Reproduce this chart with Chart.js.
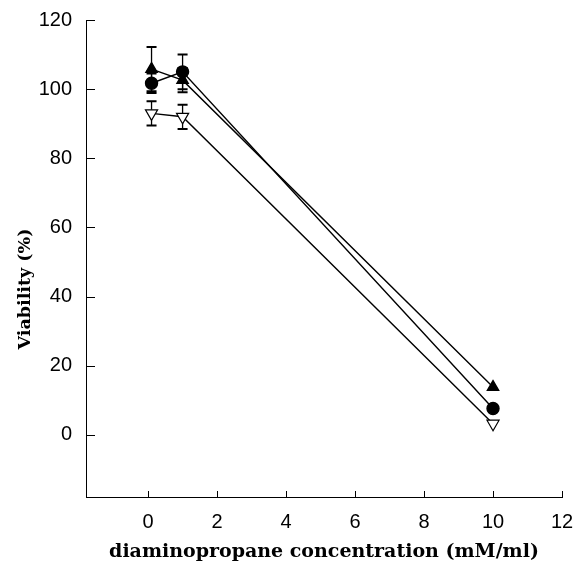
<!DOCTYPE html>
<html>
<head>
<meta charset="utf-8">
<script src="https://cdn.jsdelivr.net/npm/chart.js@4/dist/chart.umd.min.js"></script>
<style>
  html, body { margin: 0; padding: 0; background: #fff; }
  #wrap { width: 586px; height: 568px; position: relative; }
</style>
</head>
<body>
<div id="wrap"><canvas id="c" width="586" height="568"></canvas></div>
<script>
// ---- data ----
const concentrations = [0.1, 1, 10];
const seriesTriangle = [105.8, 102.6, 13.8];
const errTriangle    = [6.4, 3.5, 0];
const seriesCircle   = [101.7, 105.0, 7.6];
const errCircle      = [2.8, 5.0, 0];
const seriesOpenTri  = [93.0, 92.0, 3.2];
const errOpenTri     = [3.5, 3.5, 0];
const xTickLabels = [0, 2, 4, 6, 8, 10, 12];
const yTickLabels = [0, 20, 40, 60, 80, 100, 120];
const xTitle = 'diaminopropane concentration (mM/ml)';
const yTitle = 'Viability (%)';

function pts(ys) { return concentrations.map((x, i) => ({ x: x, y: ys[i] })); }

const errorBars = {
  id: 'errorBars',
  beforeDatasetsDraw(chart) {
    const ctx = chart.ctx;
    const xs = chart.scales.x, ys = chart.scales.y;
    chart.data.datasets.forEach(ds => {
      const errs = ds.errors || [];
      ds.data.forEach((p, i) => {
        const e = errs[i];
        if (!e) return;
        const px = xs.getPixelForValue(p.x);
        const yTop = ys.getPixelForValue(p.y + e);
        const yBot = ys.getPixelForValue(p.y - e);
        ctx.save();
        ctx.strokeStyle = '#000';
        ctx.lineWidth = 1.3;
        ctx.beginPath();
        ctx.moveTo(px, yTop); ctx.lineTo(px, yBot);
        ctx.stroke();
        ctx.lineWidth = 2;
        ctx.beginPath();
        ctx.moveTo(px - 5, yTop); ctx.lineTo(px + 5, yTop);
        ctx.moveTo(px - 5, yBot); ctx.lineTo(px + 5, yBot);
        ctx.stroke();
        ctx.restore();
      });
    });
  }
};

const inwardTicks = {
  id: 'inwardTicks',
  afterDraw(chart) {
    const ctx = chart.ctx;
    const xs = chart.scales.x, ys = chart.scales.y;
    ctx.save();
    ctx.strokeStyle = '#000';
    ctx.lineWidth = 1;
    ctx.beginPath();
    xs.ticks.forEach(t => {
      const px = Math.round(xs.getPixelForValue(t.value)) + 0.5;
      ctx.moveTo(px, xs.top); ctx.lineTo(px, xs.top - 6);
    });
    ys.ticks.forEach(t => {
      const py = Math.round(ys.getPixelForValue(t.value)) + 0.5;
      ctx.moveTo(ys.right, py); ctx.lineTo(ys.right + 9, py);
    });
    ctx.stroke();
    // rotated y-axis title
    ctx.fillStyle = '#000';
    ctx.font = 'bold 17.5px "DejaVu Serif"';
    ctx.textAlign = 'center';
    ctx.textBaseline = 'middle';
    ctx.translate(25, 289);
    ctx.rotate(-Math.PI / 2);
    ctx.fillText(yTitle, 0, 0);
    ctx.restore();
  }
};

new Chart(document.getElementById('c'), {
  type: 'scatter',
  data: {
    datasets: [
      { label: 'triangle', data: pts(seriesTriangle), errors: errTriangle, showLine: true,
        borderColor: '#000', borderWidth: 1.4, backgroundColor: '#000',
        pointStyle: 'triangle', pointRadius: 6.5, pointBackgroundColor: '#000', pointBorderColor: '#000' },
      { label: 'circle', data: pts(seriesCircle), errors: errCircle, showLine: true,
        borderColor: '#000', borderWidth: 1.4, backgroundColor: '#000',
        pointStyle: 'circle', pointRadius: 6, pointBackgroundColor: '#000', pointBorderColor: '#000' },
      { label: 'open', data: pts(seriesOpenTri), errors: errOpenTri, showLine: true,
        borderColor: '#000', borderWidth: 1.4, backgroundColor: '#fff',
        pointStyle: 'triangle', rotation: 180, pointRotation: 180, pointRadius: 7,
        pointBackgroundColor: '#fff', pointBorderColor: '#000', pointBorderWidth: 1.2 }
    ]
  },
  options: {
    responsive: false,
    animation: false,
    events: [],
    layout: { padding: { left: 0, right: 24, top: 20, bottom: 0 } },
    plugins: { legend: { display: false }, tooltip: { enabled: false } },
    scales: {
      x: {
        type: 'linear', min: -1.8, max: 12,
        afterBuildTicks: s => { s.ticks = xTickLabels.map(v => ({ value: v })); },
        afterFit: s => { s.height = 71; s.paddingLeft = 0; s.paddingRight = 0; },
        grid: { display: true, drawOnChartArea: false, drawTicks: false },
        border: { display: true, color: '#000', width: 1 },
        ticks: { color: '#000', padding: 13, font: { family: '"Liberation Sans", Arial', size: 20 } },
        title: { display: true, text: xTitle, color: '#000',
                 font: { family: '"DejaVu Serif"', size: 19, weight: 'bold' },
                 padding: { top: 4, bottom: 5 } }
      },
      y: {
        type: 'linear', min: -18, max: 120,
        afterBuildTicks: s => { s.ticks = yTickLabels.map(v => ({ value: v })); },
        afterFit: s => { s.width = 86; s.paddingTop = 0; s.paddingBottom = 0; },
        grid: { display: true, drawOnChartArea: false, drawTicks: false },
        border: { display: true, color: '#000', width: 1 },
        ticks: { color: '#000', padding: 14, font: { family: '"Liberation Sans", Arial', size: 20 } }
      }
    }
  },
  plugins: [errorBars, inwardTicks]
});
</script>
</body>
</html>
